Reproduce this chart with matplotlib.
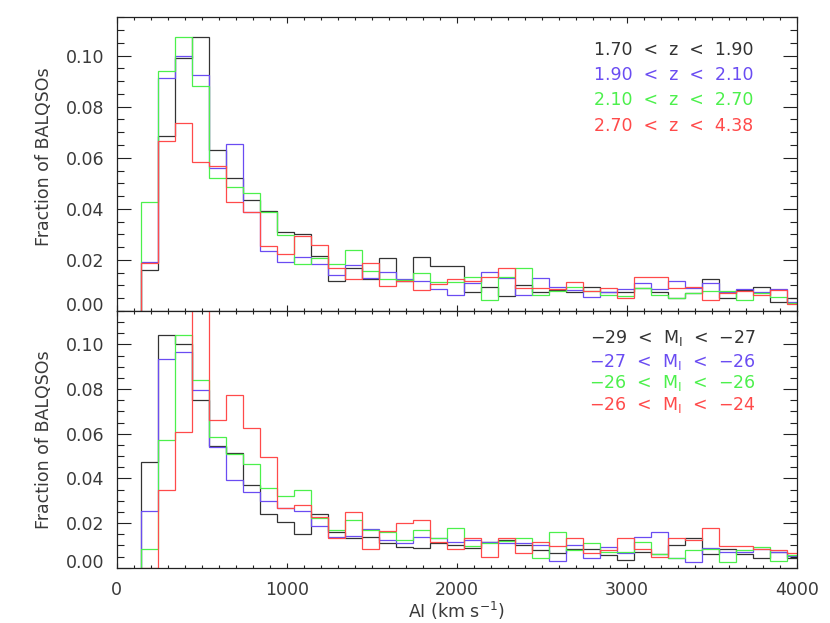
import numpy as np
import matplotlib
matplotlib.use("Agg")
import matplotlib.pyplot as plt
from matplotlib.ticker import MultipleLocator

# ---------------- data ----------------
bin_start = 145
bin_width = 100
n_bins = 39

z_labels = ["1.70  <  z  <  1.90", "1.90  <  z  <  2.10",
            "2.10  <  z  <  2.70", "2.70  <  z  <  4.38"]
m_labels = ["\u221229  <  M$_{\\rm I}$  <  \u221227", "\u221227  <  M$_{\\rm I}$  <  \u221226",
            "\u221226  <  M$_{\\rm I}$  <  \u221226", "\u221226  <  M$_{\\rm I}$  <  \u221224"]

z_black = [0.0159, 0.0686, 0.0990, 0.1073, 0.0629, 0.0519, 0.0434, 0.0392, 0.0308, 0.0301,
           0.0217, 0.0117, 0.0168, 0.0124, 0.0209, 0.0116, 0.0210, 0.0176, 0.0176, 0.0076,
           0.0093, 0.0058, 0.0101, 0.0076, 0.0084, 0.0076, 0.0093, 0.0073, 0.0075, 0.0089,
           0.0076, 0.0050, 0.0069, 0.0125, 0.0050, 0.0082, 0.0093, 0.0034, 0.0050]
z_blue = [0.0192, 0.0911, 0.0999, 0.0923, 0.0558, 0.0654, 0.0386, 0.0235, 0.0192, 0.0213,
          0.0183, 0.0140, 0.0182, 0.0128, 0.0151, 0.0127, 0.0118, 0.0085, 0.0064, 0.0108,
          0.0152, 0.0128, 0.0064, 0.0128, 0.0095, 0.0082, 0.0054, 0.0076, 0.0085, 0.0108,
          0.0085, 0.0118, 0.0090, 0.0108, 0.0076, 0.0085, 0.0076, 0.0085, 0.0037]
z_green = [0.0427, 0.0941, 0.1073, 0.0881, 0.0519, 0.0484, 0.0463, 0.0386, 0.0298, 0.0185,
           0.0209, 0.0185, 0.0237, 0.0158, 0.0124, 0.0122, 0.0150, 0.0115, 0.0115, 0.0132,
           0.0043, 0.0132, 0.0167, 0.0063, 0.0080, 0.0095, 0.0078, 0.0063, 0.0060, 0.0092,
           0.0063, 0.0052, 0.0069, 0.0080, 0.0080, 0.0043, 0.0072, 0.0054, 0.0033]
z_red = [0.0186, 0.0664, 0.0735, 0.0584, 0.0567, 0.0425, 0.0388, 0.0255, 0.0222, 0.0293,
         0.0257, 0.0167, 0.0124, 0.0187, 0.0096, 0.0116, 0.0081, 0.0106, 0.0124, 0.0116,
         0.0132, 0.0167, 0.0089, 0.0089, 0.0086, 0.0115, 0.0080, 0.0089, 0.0052, 0.0132,
         0.0132, 0.0089, 0.0095, 0.0043, 0.0072, 0.0080, 0.0063, 0.0082, 0.0027]

m_black = [0.0472, 0.1042, 0.1004, 0.0751, 0.0545, 0.0516, 0.0370, 0.0239, 0.0203, 0.0151,
           0.0239, 0.0161, 0.0131, 0.0138, 0.0109, 0.0094, 0.0087, 0.0112, 0.0101, 0.0087,
           0.0116, 0.0124, 0.0101, 0.0078, 0.0066, 0.0085, 0.0085, 0.0057, 0.0034, 0.0072,
           0.0060, 0.0101, 0.0131, 0.0060, 0.0085, 0.0060, 0.0042, 0.0072, 0.0042]
m_blue = [0.0254, 0.0933, 0.0966, 0.0796, 0.0542, 0.0393, 0.0337, 0.0301, 0.0266, 0.0254,
          0.0185, 0.0139, 0.0142, 0.0175, 0.0124, 0.0109, 0.0139, 0.0131, 0.0113, 0.0124,
          0.0113, 0.0109, 0.0109, 0.0101, 0.0031, 0.0100, 0.0045, 0.0091, 0.0064, 0.0139,
          0.0161, 0.0045, 0.0024, 0.0087, 0.0070, 0.0070, 0.0082, 0.0072, 0.0052]
m_green = [0.0082, 0.0572, 0.1042, 0.0842, 0.0584, 0.0509, 0.0466, 0.0357, 0.0321, 0.0349,
           0.0224, 0.0169, 0.0213, 0.0169, 0.0160, 0.0124, 0.0169, 0.0134, 0.0179, 0.0097,
           0.0109, 0.0121, 0.0134, 0.0043, 0.0161, 0.0079, 0.0109, 0.0070, 0.0072, 0.0116,
           0.0061, 0.0045, 0.0079, 0.0082, 0.0027, 0.0079, 0.0094, 0.0030, 0.0057]
m_red = [0.0000, 0.0346, 0.0610, 0.1250, 0.0661, 0.0775, 0.0628, 0.0496, 0.0266, 0.0279,
         0.0228, 0.0134, 0.0248, 0.0082, 0.0164, 0.0199, 0.0213, 0.0113, 0.0082, 0.0131,
         0.0049, 0.0131, 0.0064, 0.0113, 0.0099, 0.0131, 0.0064, 0.0079, 0.0131, 0.0082,
         0.0049, 0.0131, 0.0124, 0.0179, 0.0097, 0.0097, 0.0082, 0.0079, 0.0064]

x_ticks = [0, 1000, 2000, 3000, 4000]
y_ticks = [0.00, 0.02, 0.04, 0.06, 0.08, 0.10]

# ---------------- style ----------------
colors = ["#333333", "#6a4cf2", "#4cf04c", "#ff4a4a"]
axis_col = "#222222"
text_col = "#3a3a3a"
W, H = 830, 623
edges = bin_start + bin_width * np.arange(n_bins + 1)

fig = plt.figure(figsize=(W / 100, H / 100), dpi=100)
left, right = 116.7, 796.7
ax_top = fig.add_axes([left / W, 1 - 311 / H, (right - left) / W, (311 - 17.3) / H])
ax_bot = fig.add_axes([left / W, 1 - 567.7 / H, (right - left) / W, (567.7 - 311) / H])

def style(ax, height_px, show_x, ylab_y):
    ax.set_xlim(0, 4000)
    ax.set_ylim(0, 0.115)
    for s in ax.spines.values():
        s.set_color(axis_col)
        s.set_linewidth(0.9)
    ax.set_xticks(x_ticks)
    ax.xaxis.set_minor_locator(MultipleLocator(100))
    ax.set_yticks(y_ticks)
    ax.yaxis.set_minor_locator(MultipleLocator(0.005))
    xmaj = 0.02 * height_px * 0.72
    ymaj = 0.02 * (right - left) * 0.72
    ax.tick_params(axis="x", which="major", direction="in", top=True, bottom=True,
                   length=xmaj, width=0.8, color=axis_col, labelsize=12.5,
                   labelcolor=text_col, pad=9.5, labelbottom=show_x)
    ax.tick_params(axis="x", which="minor", direction="in", top=True, bottom=True,
                   length=xmaj / 2, width=0.8, color=axis_col)
    ax.tick_params(axis="y", which="major", direction="in", left=True, right=True,
                   length=ymaj, width=0.8, color=axis_col, labelsize=12.5,
                   labelcolor=text_col, pad=9)
    ax.tick_params(axis="y", which="minor", direction="in", left=True, right=True,
                   length=ymaj / 2, width=0.8, color=axis_col)
    ax.set_yticklabels(["%.2f" % v for v in y_ticks])
    ax.yaxis.get_major_ticks()[0].label1.set_verticalalignment("baseline")
    ax.set_ylabel("Fraction of BALQSOs", fontsize=12.5, color=text_col)
    ax.yaxis.set_label_coords(-0.093, ylab_y)

style(ax_top, 311 - 17.3, False, 0.524)
style(ax_bot, 567.7 - 311, True, 0.5)
ax_top.set_xticklabels([])
ax_bot.set_xlabel("AI (km s$^{-1}$)", fontsize=12.5, color=text_col)
ax_bot.xaxis.set_label_coords(0.5, -0.126)

for vals, c in zip([z_black, z_blue, z_green, z_red], colors):
    ax_top.stairs(vals, edges, color=c, linewidth=0.9, baseline=0)
for vals, c in zip([m_black, m_blue, m_green, m_red], colors):
    ax_bot.stairs(vals, edges, color=c, linewidth=0.9, baseline=0)

top_y = [0.889, 0.8035, 0.7184, 0.631]
for lab, c, yy in zip(z_labels, colors, top_y):
    ax_top.text(0.936, yy, lab, transform=ax_top.transAxes, ha="right", va="center",
                fontsize=12.5, color=c)
bot_y = [0.896, 0.8025, 0.7195, 0.634]
for lab, c, yy in zip(m_labels, colors, bot_y):
    ax_bot.text(0.9397, yy, lab, transform=ax_bot.transAxes, ha="right", va="center",
                fontsize=12.5, color=c)

fig.savefig("out.png", dpi=100)
